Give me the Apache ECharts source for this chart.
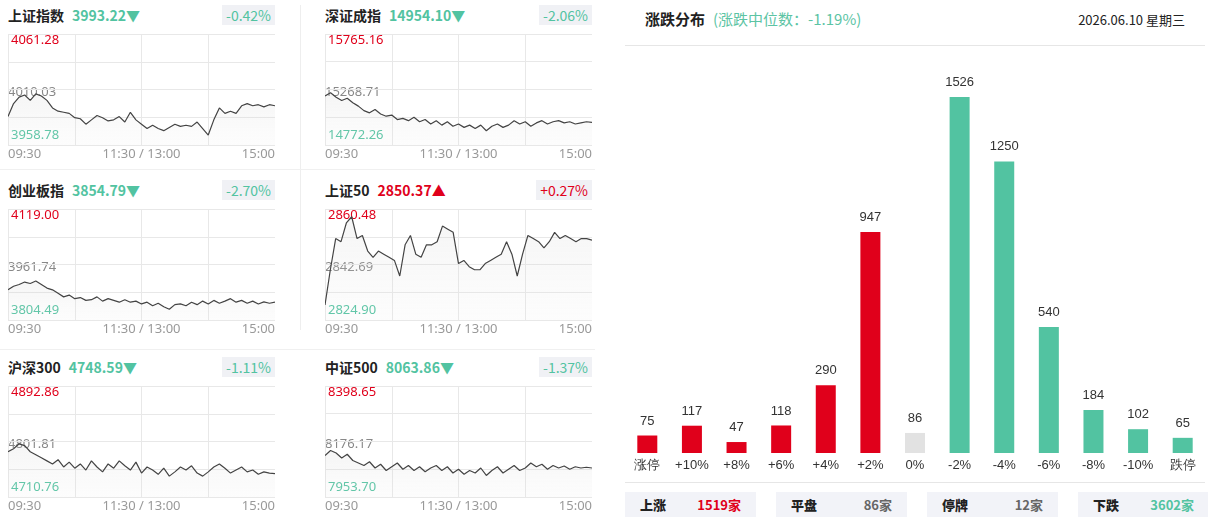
<!DOCTYPE html>
<html><head><meta charset="utf-8">
<script src="https://cdn.jsdelivr.net/npm/echarts@6/dist/echarts.min.js"></script>
<style>
body{margin:0;width:1208px;height:517px;background:#fff;font-family:"Noto Sans CJK SC","Noto Sans",sans-serif;position:relative;overflow:hidden}
.p{position:absolute;width:267px;height:170px}
.hd{position:absolute;top:5px;left:0;right:0;height:20px;font-size:14px;line-height:20px}
.nm{font-weight:bold;color:#222}
.vl{font-weight:bold;font-size:14px;margin-left:8px}
.pc{position:absolute;right:0;top:0;background:#f0f1f5;padding:0 4px;font-size:14px}
.ch{position:absolute;left:0;top:24px;width:267px;height:146px}
.box{position:absolute;top:492px;width:131px;height:26px;background:#f2f3f8;font-size:13px;font-weight:bold;line-height:26px}
.box b{position:absolute;left:15px;color:#222}
.box span{position:absolute;right:15px}
</style></head><body>
<div style="position:absolute;left:300px;top:5px;width:1px;height:325px;background:#eee"></div>
<div style="position:absolute;left:0;top:169px;width:595px;height:1px;background:#f0f0f0"></div>
<div style="position:absolute;left:0;top:349px;width:595px;height:1px;background:#f0f0f0"></div>
<div style="position:absolute;left:645px;top:8px;font-size:15px;font-weight:bold;color:#222">涨跌分布<span style="font-weight:normal;color:#5cc4a4;font-size:15px;margin-left:8px">(涨跌中位数：-1.19%)</span></div>
<div style="position:absolute;right:23px;top:10px;font-size:13px;color:#222">2026.06.10 星期三</div>
<div style="position:absolute;left:625px;top:45px;width:580px;height:1px;background:#e6e6e6"></div>
<div style="position:absolute;left:625px;top:482px;width:580px;height:1px;background:#e6e6e6"></div>
<div id="bar" style="position:absolute;left:625px;top:46px;width:580px;height:436px"></div>
<div id="boxes"></div>
<div id="panels"></div>
<script>
const names = ['上证指数','深证成指','创业板指','上证50','沪深300','中证500'];
const lastPrices = ['3993.22','14954.10','3854.79','2850.37','4748.59','8063.86'];
const changes = ['-0.42%','-2.06%','-2.70%','+0.27%','-1.11%','-1.37%'];
const axisTop = [4061.28,15765.16,4119.00,2860.48,4892.86,8398.65];
const axisMid = [4010.03,15268.71,3961.74,2842.69,4801.81,8176.17];
const axisBottom = [3958.78,14772.26,3804.49,2824.90,4710.76,7953.70];
const timeLabels = ['09:30','11:30 / 13:00','15:00'];
const line0 = [3985,3997,4003,4005,4000,4006,4004,4000,3993,3990,3989,3988,3984,3983,3978,3982,3986,3984,3981,3982,3985,3980,3989,3982,3978,3974,3977,3974,3972,3975,3978,3976,3977,3976,3980,3974,3968,3982,3993,3988,3990,3988,3995,3997,3995,3996,3994,3996,3995];
const line1 = [15210,15240,15200,15170,15190,15150,15120,15080,15060,15090,15050,15030,15040,15000,15010,14990,15020,14980,15000,14960,14990,14950,14980,14940,14960,14930,14950,14920,14950,14900,14940,14960,14930,14950,14990,14960,14980,14940,14970,14990,14960,14980,14990,14970,14980,14960,14970,14980,14975];
const line2 = [3890,3900,3905,3912,3908,3915,3905,3895,3890,3880,3870,3875,3865,3868,3860,3862,3870,3858,3865,3860,3855,3862,3855,3858,3850,3855,3845,3852,3842,3835,3848,3850,3845,3855,3848,3858,3850,3860,3852,3858,3865,3855,3860,3852,3858,3850,3856,3852,3855];
const line3 = [2829.7,2841,2851,2850,2856,2858,2851,2852,2847,2845,2847,2846,2845,2844,2839,2849,2852,2846,2845,2849,2849,2850,2855,2854,2853,2843,2844,2842,2841,2841,2843,2844,2845,2846,2850,2846,2839,2846,2852,2851,2850,2848,2850,2853,2851,2852,2851,2850,2851,2851,2850.5];
const line4 = [4785,4790,4798,4795,4785,4780,4775,4770,4765,4772,4760,4768,4758,4765,4755,4770,4760,4752,4765,4758,4770,4762,4755,4768,4750,4760,4755,4748,4758,4745,4752,4760,4755,4762,4750,4745,4752,4760,4765,4758,4750,4755,4760,4752,4755,4748,4752,4750,4749];
const line5 = [8120,8140,8130,8110,8125,8100,8090,8080,8095,8070,8085,8060,8075,8090,8065,8080,8060,8075,8055,8070,8080,8060,8075,8050,8065,8045,8060,8050,8070,8040,8060,8075,8050,8065,8080,8060,8070,8090,8075,8085,8065,8080,8070,8078,8065,8075,8070,8073,8070];
const lines = [line0,line1,line2,line3,line4,line5];

const barCats = ['涨停','+10%','+8%','+6%','+4%','+2%','0%','-2%','-4%','-6%','-8%','-10%','跌停'];
const barVals = [75,117,47,118,290,947,86,1526,1250,540,184,102,65];
const statNames = ['上涨','平盘','停牌','下跌'];
const statVals = ['1519家','86家','12家','3602家'];

const RED = '#e0001b', GREEN = '#52c3a1';
const lefts = [8,325], tops = [10,185,362];
const panels = document.getElementById('panels');
names.forEach((n,i)=>{
  const up = changes[i][0]==='+';
  const col = up ? RED : GREEN;
  const d = document.createElement('div');
  d.className='p';
  d.style.left = lefts[i%2]+'px'; d.style.top = (tops[Math.floor(i/2)]-10)+'px';
  d.innerHTML = `<div class="hd"><span class="nm">${n}</span><span class="vl" style="color:${col}">${lastPrices[i]}${up?'▲':'▼'}</span><span class="pc" style="color:${col}">${changes[i]}</span></div><div class="ch"></div>`;
  panels.appendChild(d);
  const c = echarts.init(d.querySelector('.ch'));
  const data = lines[i];
  const mn = axisBottom[i], mx = axisTop[i];
  const f = '13px "Noto Sans"';
  c.setOption({
    animation:false,
    grid:{left:0,right:0,top:10,bottom:25},
    xAxis:{type:'value',min:0,max:data.length-1,interval:(data.length-1)/4,
      axisLine:{show:false},axisTick:{show:false},
      splitLine:{lineStyle:{color:'#e8e8e8'}},
      axisLabel:{show:false}},
    yAxis:{type:'value',min:mn,max:mx,interval:(mx-mn)/4,
      axisLine:{show:false},axisTick:{show:false},axisLabel:{show:false},
      splitLine:{lineStyle:{color:'#e8e8e8'}}},
    graphic:[
      {type:'text',left:3,top:10,style:{text:axisTop[i].toFixed(2),fill:RED,font:f}},
      {type:'text',left:0,top:62,style:{text:axisMid[i].toFixed(2),fill:'#888',font:f}},
      {type:'text',left:3,top:105,style:{text:axisBottom[i].toFixed(2),fill:GREEN,font:f}},
      {type:'text',left:0,top:124,style:{text:timeLabels[0],fill:'#999',font:f}},
      {type:'text',left:'center',top:124,style:{text:timeLabels[1],fill:'#999',font:f}},
      {type:'text',right:0,top:124,style:{text:timeLabels[2],fill:'#999',font:f}}
    ],
    series:[{type:'line',data:data.map((v,k)=>[k,v]),symbol:'none',
      lineStyle:{color:'#444',width:1.2},
      areaStyle:{origin:'start',color:new echarts.graphic.LinearGradient(0,0,0,1,[{offset:0,color:'rgba(200,200,200,0.25)'},{offset:1,color:'rgba(230,230,230,0.15)'}])}}]
  });
});

const boxes = document.getElementById('boxes');
const statColors = [RED,'#666','#666',GREEN];
statNames.forEach((s,i)=>{
  const b = document.createElement('div');
  b.className='box'; b.style.left = (625+i*151)+'px';
  b.innerHTML = `<b>${s}</b><span style="color:${statColors[i]}">${statVals[i]}</span>`;
  boxes.appendChild(b);
});

const bar = echarts.init(document.getElementById('bar'));
bar.setOption({
  animation:false,
  grid:{left:0,right:0,top:51,bottom:29},
  xAxis:{type:'category',data:barCats,axisLine:{show:false},axisTick:{show:false},
    axisLabel:{color:'#333',fontSize:13,margin:6}},
  yAxis:{type:'value',min:0,max:1526,show:false,splitLine:{show:false}},
  series:[{type:'bar',barWidth:20,
    data:barVals.map((v,k)=>({value:v,itemStyle:{color:k<6?RED:(k===6?'#e2e2e2':GREEN)}})),
    label:{show:true,position:'top',color:'#333',fontSize:13,distance:8}}]
});
</script>
</body></html>
